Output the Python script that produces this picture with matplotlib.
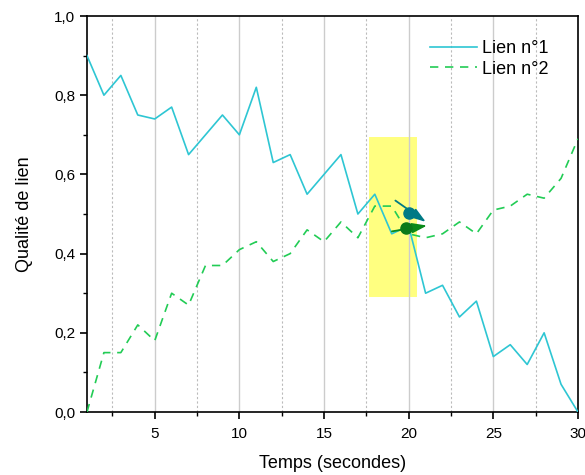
import numpy as np
import matplotlib
matplotlib.use("Agg")
import matplotlib.pyplot as plt
from matplotlib.ticker import MultipleLocator, FuncFormatter
from matplotlib.patches import Rectangle

plt.rcParams['font.family'] = ['Liberation Sans', 'DejaVu Sans']

temps = list(range(1, 31))
lien1 = [0.90, 0.80, 0.85, 0.75, 0.74, 0.77, 0.65, 0.70, 0.75, 0.70,
         0.82, 0.63, 0.65, 0.55, 0.60, 0.65, 0.50, 0.55, 0.45, 0.47,
         0.30, 0.32, 0.24, 0.28, 0.14, 0.17, 0.12, 0.20, 0.07, 0.00]
lien2 = [0.00, 0.15, 0.15, 0.22, 0.18, 0.30, 0.27, 0.37, 0.37, 0.41,
         0.43, 0.38, 0.40, 0.46, 0.43, 0.48, 0.44, 0.52, 0.52, 0.45,
         0.44, 0.45, 0.48, 0.45, 0.51, 0.52, 0.55, 0.54, 0.59, 0.69]

# zone surlignee (x0, x1, y0, y1)
zone = (17.65, 20.5, 0.29, 0.695)
# points marques et fleches (depart -> arrivee)
pt1 = (20.0, 0.502)
pt2 = (19.84, 0.464)
fleche1 = ((19.08, 0.538), (21.15, 0.476))
fleche2 = ((18.85, 0.455), (21.25, 0.472))

fig = plt.figure(figsize=(5.85, 4.75), dpi=100)
ax = fig.add_axes([0.1487, 0.1326, 0.8393, 0.8337])

ax.add_patch(Rectangle((zone[0], zone[2]), zone[1] - zone[0], zone[3] - zone[2],
                       facecolor='#ffff80', edgecolor='none', zorder=0))

ax.plot(temps, lien1, color='#2ec6d3', lw=1.2, label='Lien n°1', zorder=3)
ax.plot(temps, lien2, color='#22cc55', lw=1.2, ls=(0, (5, 4)), label='Lien n°2', zorder=3)

ax.annotate('', xy=fleche1[1], xytext=fleche1[0],
            arrowprops=dict(arrowstyle='-|>,head_length=0.9,head_width=0.3',
                            color='#007a85', lw=1.3), zorder=5)
ax.annotate('', xy=fleche2[1], xytext=fleche2[0],
            arrowprops=dict(arrowstyle='-|>,head_length=0.9,head_width=0.3',
                            color='#0a8a1a', lw=1.3), zorder=5)
ax.plot(*pt1, 'o', color='#007a85', ms=8, zorder=6)
ax.plot(*pt2, 'o', color='#0a7a1a', ms=8, zorder=6)

ax.set_xlim(1, 30)
ax.set_ylim(0, 1.0)
ax.xaxis.set_major_locator(MultipleLocator(5))
ax.xaxis.set_minor_locator(MultipleLocator(2.5))
ax.yaxis.set_major_locator(MultipleLocator(0.2))
ax.yaxis.set_minor_locator(MultipleLocator(0.1))
ax.yaxis.set_major_formatter(FuncFormatter(lambda v, p: ('%.1f' % v).replace('.', ',')))

ax.grid(True, which='major', axis='x', color='#cccccc', lw=1.0, zorder=1)
ax.grid(True, which='minor', axis='x', color='#bbbbbb', lw=0.8, ls=(0, (2, 2)), zorder=1)
ax.set_axisbelow(True)

ax.tick_params(which='major', direction='out', length=5, width=1.2, labelsize=11)
ax.tick_params(axis='x', which='major', pad=6)
ax.tick_params(which='minor', direction='out', length=3, width=1.0)
for s in ax.spines.values():
    s.set_linewidth(1.2)

ax.set_xlabel('Temps (secondes)', fontsize=13, labelpad=10)
ax.set_ylabel('Qualité de lien', fontsize=13, labelpad=15)

ax.legend(loc='upper right', bbox_to_anchor=(0.973, 0.98), frameon=False,
          fontsize=13, handlelength=2.6, handletextpad=0.3, labelspacing=0.2)

fig.savefig('out.png', dpi=100)
